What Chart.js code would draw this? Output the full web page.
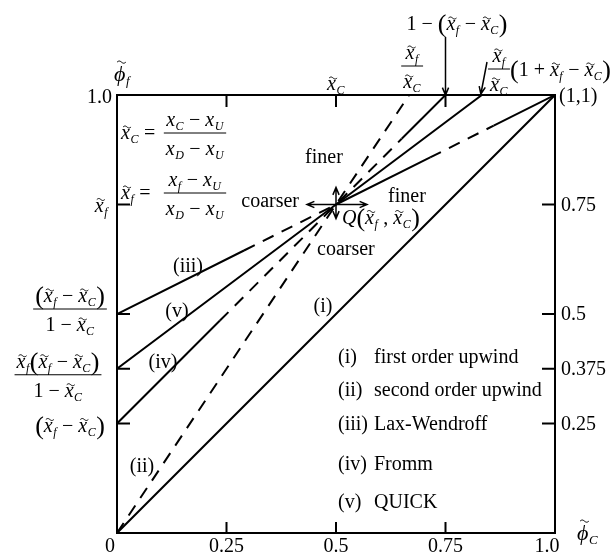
<!DOCTYPE html>
<html>
<head>
<meta charset="utf-8">
<script src="https://cdn.jsdelivr.net/npm/chart.js@4"></script>
<style>
  body { margin: 0; background: #fff; }
  #wrap { width: 613px; height: 558px; }
</style>
</head>
<body>
<div id="wrap"><canvas id="nvd"></canvas></div>
<script>
// NVD lines, phi_f against phi_C, with xC = 0.5 and xf = 0.75
const upwind1X = [0, 1];
const upwind1Y = [0, 1];
const upwind2X = [0, 0.5, 0.667];
const upwind2Y = [0, 0.75, 1];
const laxX = [0, 0.29, 0.5, 0.715, 0.86, 1];
const laxY = [0.5, 0.645, 0.75, 0.8575, 0.93, 1];
const laxDash = [0, 1, 0, 1, 0];
const frommX = [0, 0.235, 0.65, 0.75];
const frommY = [0.25, 0.485, 0.9, 1];
const frommDash = [0, 1, 0];
const quickX = [0, 0.5, 0.833];
const quickY = [0.375, 0.75, 1];

const schemeTags = ['(i)', '(ii)', '(iii)', '(iv)', '(v)'];
const schemeNames = ['first order upwind', 'second order upwind', 'Lax-Wendroff', 'Fromm', 'QUICK'];
const legendRows = [358, 391, 425, 465, 503];

const xTicks = [0, 0.25, 0.5, 0.75, 1.0];
const xTickLabels = ['0', '0.25', '0.5', '0.75', '1.0'];
const topTicks = [0.25, 0.5, 0.75];
const leftTicks = [1.0, 0.75, 0.5, 0.375, 0.25];
const rightTicks = [0.75, 0.5, 0.375, 0.25];
const rightTickLabels = ['0.75', '0.5', '0.375', '0.25'];
const qPoint = { x: 0.5, y: 0.75 };

const SERIF = '"Liberation Serif", "Times New Roman", serif';
const SZ = 20;

function pts(xs, ys) {
  return xs.map((x, i) => ({ x: x, y: ys[i] }));
}

function lineSet(xs, ys, dashFlags) {
  return {
    data: pts(xs, ys),
    showLine: true,
    borderColor: '#000',
    borderWidth: 2,
    pointRadius: 0,
    borderCapStyle: 'butt',
    segment: {
      borderDash: ctx => (dashFlags && dashFlags[ctx.p0DataIndex]) ? [12, 9] : []
    }
  };
}

// --- little math typesetter: strings are upright, objects are italic variables
const xf = { v: 'x', s: 'f', t: true };
const xc = { v: 'x', s: 'C', t: true };
const L = { p: '(' }, R = { p: ')' };

function drawTilde(ctx, cx, ty, sz) {
  const w = sz * 0.2, h = sz * 0.05;
  ctx.save();
  ctx.lineWidth = 1;
  ctx.beginPath();
  for (let i = 0; i <= 12; i++) {
    const t = i / 12;
    const px = cx - w + 2 * w * t;
    const py = ty - h * Math.sin(2 * Math.PI * t);
    if (i === 0) ctx.moveTo(px, py); else ctx.lineTo(px, py);
  }
  ctx.stroke();
  ctx.restore();
}

function partWidth(ctx, p, sz) {
  if (typeof p === 'string') {
    ctx.font = sz + 'px ' + SERIF;
    return ctx.measureText(p).width;
  }
  if (p.p) {
    ctx.font = Math.round(sz * 1.3) + 'px ' + SERIF;
    return ctx.measureText(p.p).width;
  }
  ctx.font = 'italic ' + sz + 'px ' + SERIF;
  let w = ctx.measureText(p.v).width;
  if (p.s) {
    ctx.font = 'italic ' + Math.round(sz * 0.6) + 'px ' + SERIF;
    w += ctx.measureText(p.s).width + 1;
  }
  return w;
}

function runWidth(ctx, parts, sz) {
  return parts.reduce((a, p) => a + partWidth(ctx, p, sz), 0);
}

function drawRun(ctx, parts, x, cy, sz, align) {
  const w = runWidth(ctx, parts, sz);
  let cx = align === 'center' ? x - w / 2 : align === 'right' ? x - w : x;
  const base = cy + sz * 0.32;
  ctx.textAlign = 'left';
  ctx.textBaseline = 'alphabetic';
  parts.forEach(p => {
    if (typeof p === 'string') {
      ctx.font = sz + 'px ' + SERIF;
      ctx.fillText(p, cx, base);
      cx += ctx.measureText(p).width;
      return;
    }
    if (p.p) {
      // taller brackets round a group
      ctx.font = Math.round(sz * 1.3) + 'px ' + SERIF;
      ctx.fillText(p.p, cx, base + sz * 0.08);
      cx += ctx.measureText(p.p).width;
      return;
    }
    ctx.font = 'italic ' + sz + 'px ' + SERIF;
    const bw = ctx.measureText(p.v).width;
    ctx.fillText(p.v, cx, base);
    if (p.t) drawTilde(ctx, cx + bw / 2 + sz * 0.08, base - sz * (p.v === 'ϕ' ? 0.86 : 0.62), sz);
    cx += bw;
    if (p.s) {
      ctx.font = 'italic ' + Math.round(sz * 0.6) + 'px ' + SERIF;
      ctx.fillText(p.s, cx + 0.5, base + sz * 0.2);
      cx += ctx.measureText(p.s).width + 1;
    }
  });
}

function drawFrac(ctx, num, den, cx, barY, sz) {
  const w = Math.max(runWidth(ctx, num, sz), runWidth(ctx, den, sz)) + 4;
  ctx.lineWidth = 1;
  ctx.beginPath();
  ctx.moveTo(cx - w / 2, barY);
  ctx.lineTo(cx + w / 2, barY);
  ctx.stroke();
  drawRun(ctx, num, cx, barY - 13, sz, 'center');
  drawRun(ctx, den, cx, barY + 16, sz, 'center');
}

function arrow(ctx, x1, y1, x2, y2) {
  const ang = Math.atan2(y2 - y1, x2 - x1);
  const hl = 8, ha = 0.4;
  ctx.beginPath();
  ctx.moveTo(x1, y1);
  ctx.lineTo(x2, y2);
  ctx.moveTo(x2 - hl * Math.cos(ang - ha), y2 - hl * Math.sin(ang - ha));
  ctx.lineTo(x2, y2);
  ctx.lineTo(x2 - hl * Math.cos(ang + ha), y2 - hl * Math.sin(ang + ha));
  ctx.stroke();
}

const frame = {
  id: 'frame',
  afterDraw(chart) {
    const { ctx, chartArea: a, scales: { x, y } } = chart;
    ctx.save();
    ctx.strokeStyle = '#000';
    ctx.fillStyle = '#000';

    // box and inward ticks
    ctx.lineWidth = 2;
    ctx.strokeRect(a.left, a.top, a.right - a.left, a.bottom - a.top);
    ctx.beginPath();
    xTicks.slice(1).forEach(v => {
      const px = x.getPixelForValue(v);
      ctx.moveTo(px, a.bottom); ctx.lineTo(px, a.bottom - 11);
    });
    topTicks.forEach(v => {
      const px = x.getPixelForValue(v);
      ctx.moveTo(px, a.top); ctx.lineTo(px, a.top + 12);
    });
    leftTicks.forEach(v => {
      const py = y.getPixelForValue(v);
      ctx.moveTo(a.left, py); ctx.lineTo(a.left + 13, py);
    });
    rightTicks.forEach(v => {
      const py = y.getPixelForValue(v);
      ctx.moveTo(a.right, py); ctx.lineTo(a.right - 13, py);
    });
    ctx.stroke();

    // numeric tick labels
    ctx.font = SZ + 'px ' + SERIF;
    ctx.textBaseline = 'middle';
    xTicks.forEach((v, i) => {
      ctx.textAlign = 'center';
      const shift = v === 0 ? -7 : v === 1 ? -8 : 0;
      ctx.fillText(xTickLabels[i], x.getPixelForValue(v) + shift, a.bottom + 14);
    });
    ctx.textAlign = 'left';
    rightTicks.forEach((v, i) => {
      ctx.fillText(rightTickLabels[i], a.right + 6, y.getPixelForValue(v) + 1);
    });
    ctx.textAlign = 'right';
    ctx.fillText('1.0', a.left - 5, a.top + 3);
    ctx.textAlign = 'left';
    ctx.fillText('(1,1)', a.right + 4, a.top + 2);

    // left axis symbolic labels
    drawRun(ctx, [xf], a.left - 9, y.getPixelForValue(0.75) + 1, SZ, 'right');
    drawFrac(ctx, [L, xf, ' − ', xc, R], ['1 − ', xc], 70, y.getPixelForValue(0.5) - 5, SZ);
    drawFrac(ctx, [xf, L, xf, ' − ', xc, R], ['1 − ', xc], 58, y.getPixelForValue(0.375) + 6, SZ);
    drawRun(ctx, [L, xf, ' − ', xc, R], 70, y.getPixelForValue(0.25) + 2, SZ, 'center');

    // definitions
    drawRun(ctx, [xc, ' = '], a.left + 4, 133, SZ, 'left');
    drawFrac(ctx, [{ v: 'x', s: 'C' }, ' − ', { v: 'x', s: 'U' }], [{ v: 'x', s: 'D' }, ' − ', { v: 'x', s: 'U' }], 195, 133, SZ);
    drawRun(ctx, [xf, ' = '], a.left + 4, 193, SZ, 'left');
    drawFrac(ctx, [{ v: 'x', s: 'f' }, ' − ', { v: 'x', s: 'U' }], [{ v: 'x', s: 'D' }, ' − ', { v: 'x', s: 'U' }], 195, 193, SZ);

    // axis titles
    drawRun(ctx, [{ v: 'ϕ', s: 'f', t: true }], a.left + 5, 74, 22, 'center');
    drawRun(ctx, [{ v: 'ϕ', s: 'C', t: true }], a.right + 22, a.bottom, 22, 'left');

    // top labels where the lines meet phi_f = 1
    drawRun(ctx, [xc], x.getPixelForValue(0.5), 84, SZ, 'center');
    drawFrac(ctx, [xf], [xc], x.getPixelForValue(upwind2X[2]) + 3, 66, SZ);
    drawRun(ctx, ['1 − ', L, xf, ' − ', xc, R], 457, 24, SZ, 'center');
    drawFrac(ctx, [xf], [xc], 499, 69, SZ);
    drawRun(ctx, [L, '1 + ', xf, ' − ', xc, R], 510, 70, SZ, 'left');
    ctx.lineWidth = 1.5;
    arrow(ctx, x.getPixelForValue(frommX[3]), 37, x.getPixelForValue(frommX[3]), a.top);
    arrow(ctx, 487, 62, x.getPixelForValue(quickX[2]) - 1, a.top - 1);

    // Q point with the finer / coarser directions
    const qx = x.getPixelForValue(qPoint.x), qy = y.getPixelForValue(qPoint.y);
    ctx.lineWidth = 1.5;
    arrow(ctx, qx, qy, qx - 29, qy);
    arrow(ctx, qx, qy, qx + 31, qy);
    arrow(ctx, qx, qy, qx, qy - 17);
    arrow(ctx, qx, qy, qx, qy + 14);
    ctx.font = SZ + 'px ' + SERIF;
    ctx.textBaseline = 'middle';
    ctx.textAlign = 'center';
    ctx.fillText('finer', 324, 158);
    ctx.fillText('finer', 407, 197);
    ctx.textAlign = 'right';
    ctx.fillText('coarser', 299, 202);
    ctx.textAlign = 'left';
    ctx.fillText('coarser', 317, 250);
    drawRun(ctx, [{ v: 'Q' }, L, xf, ' , ', xc, R], qx + 6, qy + 13, SZ, 'left');

    // curve tags
    ctx.font = SZ + 'px ' + SERIF;
    ctx.textAlign = 'center';
    ctx.textBaseline = 'middle';
    ctx.fillText(schemeTags[0], 323, 307);
    ctx.fillText(schemeTags[1], 142, 467);
    ctx.fillText(schemeTags[2], 188, 267);
    ctx.fillText(schemeTags[3], 163, 363);
    ctx.fillText(schemeTags[4], 177, 312);

    // key
    ctx.textAlign = 'left';
    schemeTags.forEach((tag, i) => {
      ctx.fillText(tag, 338, legendRows[i]);
      ctx.fillText(schemeNames[i], 374, legendRows[i]);
    });
    ctx.restore();
  }
};

new Chart(document.getElementById('nvd'), {
  type: 'scatter',
  data: {
    datasets: [
      lineSet(upwind1X, upwind1Y),
      lineSet(upwind2X, upwind2Y, [1, 1]),
      lineSet(laxX, laxY, laxDash),
      lineSet(frommX, frommY, frommDash),
      lineSet(quickX, quickY)
    ]
  },
  options: {
    responsive: true,
    maintainAspectRatio: false,
    animation: false,
    layout: { padding: { left: 117, right: 58, top: 95, bottom: 25 } },
    scales: {
      x: { type: 'linear', min: 0, max: 1, display: false },
      y: { type: 'linear', min: 0, max: 1, display: false }
    },
    plugins: { legend: { display: false }, tooltip: { enabled: false } }
  },
  plugins: [frame]
});
</script>
</body>
</html>
